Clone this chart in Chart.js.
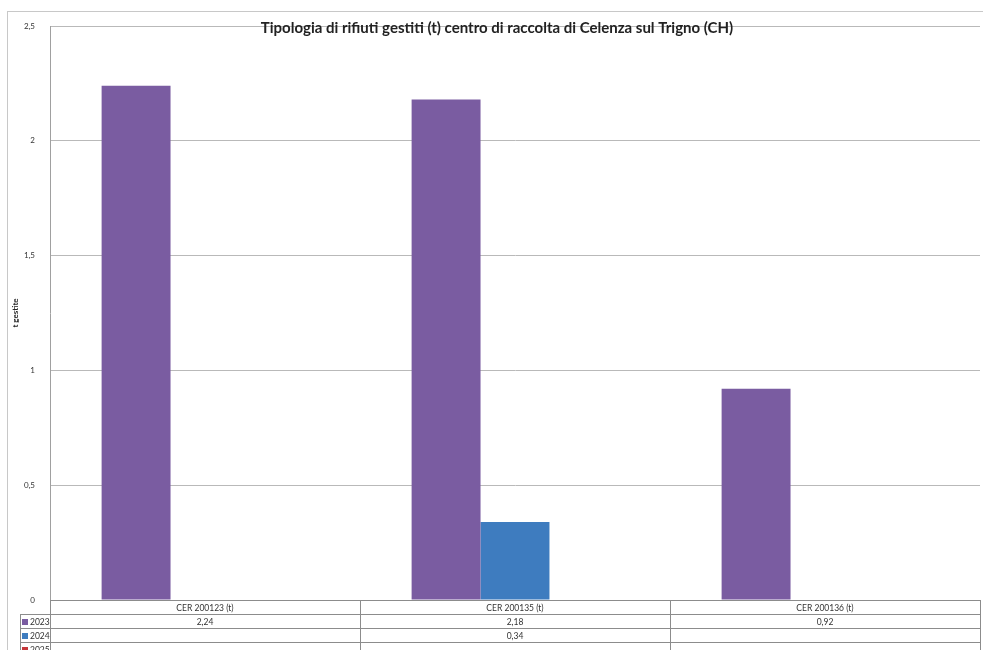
<!DOCTYPE html>
<html>
<head>
<meta charset="utf-8">
<script src="https://cdn.jsdelivr.net/npm/chart.js@4"></script>
<style>
body{margin:0;background:#fff}
canvas{display:block}
</style>
</head>
<body>
<canvas id="chart" width="983" height="650"></canvas>
<script>

/* DATA */

const categories=["CER 200123 (t)","CER 200135 (t)","CER 200136 (t)"]
const years=["2023","2024","2025"]
const values2023=[2.24,2.18,0.92]
const values2024=[null,0.34,null]
const values2025=[null,null,null]
const colors=["#7a5ca1","#3e7cbf","#c5373a"]

const chartTitle="Tipologia di rifiuti gestiti (t) centro di raccolta di Celenza sul Trigno (CH)"

const FONT="Lato, 'Open Sans', sans-serif"

function fmt(v){
return v.toString().replace(".",",")
}

/* FRAME, TITLE AND DATA TABLE */

const tablePlugin={
id:"tablePlugin",
afterDraw(chart){

const ctx=chart.ctx
const area=chart.chartArea
const x=chart.scales.x

ctx.save()

/* outer border */
ctx.strokeStyle="#c8c8c8"
ctx.lineWidth=1
ctx.strokeRect(7.5,11.5,1000,700)

/* title */
ctx.fillStyle="#222"
ctx.font="bold 15px "+FONT
ctx.textAlign="center"
ctx.textBaseline="middle"
ctx.fillText(chartTitle,497,28)

/* table */
const rowH=14
const top=area.bottom
const labelLeft=20
const step=x.getPixelForValue(1)-x.getPixelForValue(0)

ctx.strokeStyle="#8c8c8c"
ctx.lineWidth=1

// horizontal lines
ctx.beginPath()
ctx.moveTo(area.left,top+0.5)
ctx.lineTo(area.right,top+0.5)
for(let r=1;r<=years.length;r++){
ctx.moveTo(labelLeft,Math.round(top+r*rowH)+0.5)
ctx.lineTo(area.right,Math.round(top+r*rowH)+0.5)
}
ctx.stroke()

// vertical lines
ctx.beginPath()
ctx.moveTo(labelLeft+0.5,top+rowH)
ctx.lineTo(labelLeft+0.5,650)
ctx.moveTo(area.left+0.5,top)
ctx.lineTo(area.left+0.5,650)
categories.forEach((c,i)=>{
const xr=Math.round(x.getPixelForValue(i)+step/2)+0.5
ctx.moveTo(xr,top)
ctx.lineTo(xr,650)
})
ctx.stroke()

// header labels
ctx.fillStyle="#333"
ctx.font="8.5px "+FONT
ctx.textAlign="center"
ctx.textBaseline="middle"
categories.forEach((c,i)=>{
ctx.fillText(c,x.getPixelForValue(i),top+rowH/2+1)
})

// rows
const series=[values2023,values2024,values2025]
years.forEach((y,r)=>{
const cy=top+(r+1)*rowH+rowH/2+1
ctx.fillStyle=colors[r]
ctx.fillRect(labelLeft+2,cy-3,6,6)
ctx.fillStyle="#333"
ctx.textAlign="left"
ctx.fillText(y,labelLeft+10,cy)
ctx.textAlign="center"
series[r].forEach((v,i)=>{
if(v!==null) ctx.fillText(fmt(v),x.getPixelForValue(i),cy)
})
})

ctx.restore()
}
}

/* BAR CHART */

const chart=new Chart(document.getElementById("chart"),{

type:"bar",

data:{
labels:categories,
datasets:[
{label:years[0],data:values2023,backgroundColor:colors[0]},
{label:years[1],data:values2024,backgroundColor:colors[1]},
{label:years[2],data:values2025,backgroundColor:colors[2]}
]
},

options:{
responsive:false,
animation:false,
devicePixelRatio:1,
layout:{padding:{top:26,left:7,right:3,bottom:50}},
datasets:{bar:{categoryPercentage:0.667,barPercentage:1}},
plugins:{
legend:{display:false},
tooltip:{enabled:false}
},
scales:{
x:{
grid:{display:false},
ticks:{display:false},
border:{display:false},
afterFit(s){s.height=0}
},
y:{
min:0,
max:2.5,
ticks:{
stepSize:0.5,
color:"#333",
font:{size:8,family:FONT},
padding:15,
callback:v=>fmt(v)
},
grid:{color:"#b9b9b9",drawTicks:false},
border:{color:"#a0a0a0"},
title:{
display:true,
text:"t gestite",
color:"#222",
font:{size:8,weight:"bold",family:FONT},
padding:{top:4,bottom:0}
},
afterFit(s){s.width=43}
}
}
},

plugins:[tablePlugin]

})

</script>
</body>
</html>
